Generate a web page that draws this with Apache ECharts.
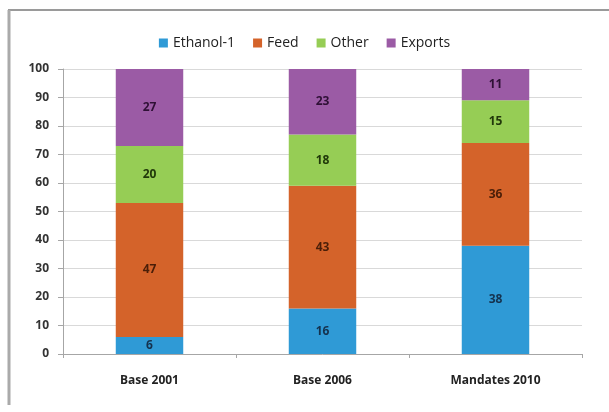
<!DOCTYPE html>
<html><head><meta charset="utf-8">
<script src="https://cdn.jsdelivr.net/npm/echarts@6/dist/echarts.min.js"></script>
<style>html,body{margin:0;padding:0;background:#fff}#c{width:609px;height:412px}</style>
</head><body><div id="c"></div>
<script>
const categories = ['Base 2001', 'Base 2006', 'Mandates 2010'];
const ethanol = [6, 16, 38];
const feed = [47, 43, 36];
const other = [20, 18, 15];
const exportsV = [27, 23, 11];
const yTicks = [0, 10, 20, 30, 40, 50, 60, 70, 80, 90, 100];

const font = '"Open Sans", "Liberation Sans", sans-serif';
function s(name, data, color, labelColor) {
  return {
    name, type: 'bar', stack: 'total', data, barWidth: '39%',
    itemStyle: { color },
    label: { show: true, position: 'inside', color: labelColor, fontWeight: 'bold', fontSize: 12, fontFamily: font },
    emphasis: { disabled: true }
  };
}
const chart = echarts.init(document.getElementById('c'), null, { renderer: 'canvas' });
chart.setOption({
  animation: false,
  textStyle: { fontFamily: font },
  graphic: [
    { type: 'line', shape: { x1: 8, y1: 10, x2: 609, y2: 10 }, style: { stroke: '#9a9a9a', lineWidth: 2 } },
    { type: 'line', shape: { x1: 9, y1: 10, x2: 9, y2: 405 }, style: { stroke: '#aaaaaa', lineWidth: 3 } }
  ],
  legend: {
    top: 31, left: 'center', itemWidth: 9, itemHeight: 9, itemGap: 18, icon: 'rect',
    textStyle: { fontSize: 14, color: '#222', fontFamily: font },
    data: ['Ethanol-1', 'Feed', 'Other', 'Exports']
  },
  grid: { left: 63, right: 27, top: 69, bottom: 58 },
  xAxis: {
    type: 'category', data: categories,
    axisLine: { lineStyle: { color: '#a6a6a6' } },
    axisTick: { show: true, alignWithLabel: false, length: 4, lineStyle: { color: '#a6a6a6' } },
    axisLabel: { color: '#222', fontSize: 12, fontWeight: 'bold', margin: 21, fontFamily: font }
  },
  yAxis: {
    type: 'value', min: 0, max: 100, interval: 10,
    axisLine: { show: true, lineStyle: { color: '#a6a6a6' } },
    axisTick: { show: true, length: 5, lineStyle: { color: '#a6a6a6' } },
    splitLine: { lineStyle: { color: '#d9d9d9' } },
    axisLabel: { color: '#333', fontSize: 12, fontWeight: 'bold', margin: 14, fontFamily: font,
      formatter: v => yTicks.includes(v) ? String(v) : '' }
  },
  series: [
    s('Ethanol-1', ethanol, '#2f9ad6', '#15324e'),
    s('Feed', feed, '#d4632a', '#4a1e08'),
    s('Other', other, '#96cd55', '#21380a'),
    s('Exports', exportsV, '#9b5ba5', '#2e1035')
  ]
});
</script></body></html>
